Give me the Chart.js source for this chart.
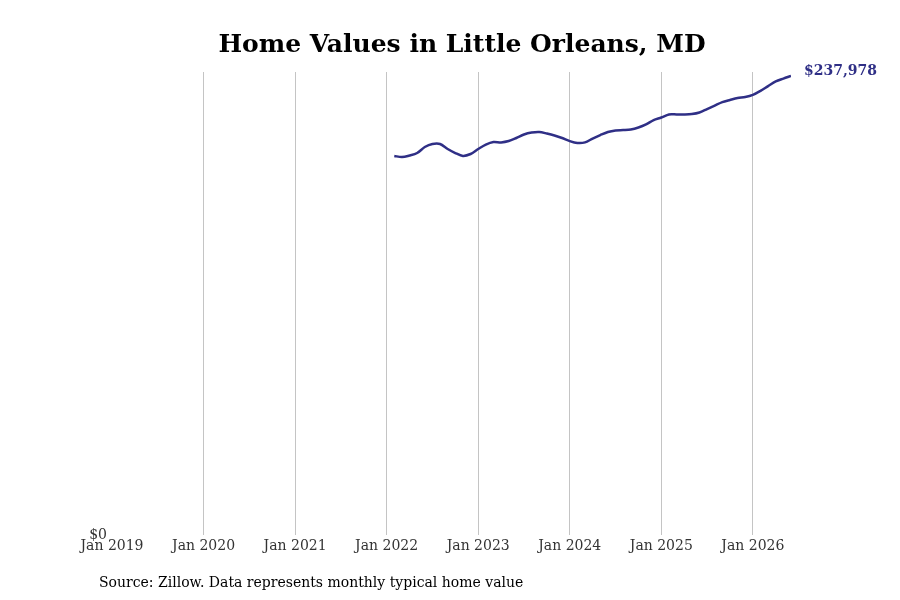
<!DOCTYPE html>
<html>
<head>
<meta charset="utf-8">
<title>Home Values in Little Orleans, MD</title>
<script src="https://cdn.jsdelivr.net/npm/chart.js@4/dist/chart.umd.min.js"></script>
<style>
    html, body { margin: 0; padding: 0; background: #fff; }
    canvas { display: block; }
</style>
</head>
<body>
<canvas id="homeValuesChart" width="900" height="600"></canvas>
<script>
// Monthly typical home value (Zillow), Feb 2022 - Jun 2026
const months = [
    '2022-02', '2022-03', '2022-04', '2022-05', '2022-06', '2022-07', '2022-08', '2022-09', '2022-10', '2022-11', '2022-12',
    '2023-01', '2023-02', '2023-03', '2023-04', '2023-05', '2023-06', '2023-07', '2023-08', '2023-09', '2023-10', '2023-11', '2023-12',
    '2024-01', '2024-02', '2024-03', '2024-04', '2024-05', '2024-06', '2024-07', '2024-08', '2024-09', '2024-10', '2024-11', '2024-12',
    '2025-01', '2025-02', '2025-03', '2025-04', '2025-05', '2025-06', '2025-07', '2025-08', '2025-09', '2025-10', '2025-11', '2025-12',
    '2026-01', '2026-02', '2026-03', '2026-04', '2026-05', '2026-06'
];
const homeValues = [
    196500, 195900, 196700, 198000, 201100, 202700, 202700, 200100, 198000, 196500, 197500,
    200100, 202400, 203700, 203500, 204200, 205800, 207600, 208600, 208900, 208100, 207100, 205800,
    204200, 203200, 203500, 205500, 207300, 208900, 209700, 209900, 210200, 211200, 212800, 215100,
    216400, 218000, 218000, 218000, 218200, 219000, 220800, 222600, 224400, 225500, 226500, 227000,
    228100, 230200, 232700, 235100, 236600, 237978
];
const tickYears = [2019, 2020, 2021, 2022, 2023, 2024, 2025, 2026];
const yTicks = [0];

const startYear = 2019;
const lineColor = '#2f2f86';
const serif = "'DejaVu Serif', 'Liberation Serif', serif";

// month string -> months since Jan 2019
function monthIndex(m) {
    const [y, mo] = m.split('-').map(Number);
    return (y - startYear) * 12 + (mo - 1);
}

const points = months.map((m, i) => ({ x: monthIndex(m), y: homeValues[i] }));

document.addEventListener('DOMContentLoaded', function() {
    const ctx = document.getElementById('homeValuesChart');

    // Title, source note and last value label
    const textPlugin = {
        id: 'textPlugin',
        afterDraw: function(chart) {
            const c = chart.ctx;
            c.save();
            c.fillStyle = '#000';
            c.font = 'bold 25px ' + serif;
            c.textAlign = 'center';
            c.textBaseline = 'middle';
            c.fillText('Home Values in Little Orleans, MD', 462, 45);

            c.font = '14px ' + serif;
            c.textAlign = 'left';
            c.fillText('Source: Zillow. Data represents monthly typical home value', 99, 583);

            const meta = chart.getDatasetMeta(0);
            const last = meta.data[meta.data.length - 1];
            const lastValue = homeValues[homeValues.length - 1];
            c.fillStyle = lineColor;
            c.font = 'bold 14px ' + serif;
            c.fillText('$' + lastValue.toLocaleString('en-US'), last.x + 13, last.y - 5);
            c.restore();
        }
    };

    new Chart(ctx, {
        type: 'line',
        data: {
            datasets: [{
                data: points,
                borderColor: lineColor,
                borderWidth: 2.5,
                pointRadius: 0,
                tension: 0.3,
                fill: false
            }]
        },
        options: {
            responsive: false,
            animation: false,
            layout: {
                padding: { top: 72, right: 109, bottom: 35, left: 0 }
            },
            plugins: {
                legend: { display: false },
                tooltip: { enabled: false },
                title: { display: false }
            },
            scales: {
                x: {
                    type: 'linear',
                    min: 0,
                    max: monthIndex(months[months.length - 1]),
                    afterBuildTicks: function(scale) {
                        scale.ticks = tickYears.map(y => ({ value: (y - startYear) * 12 }));
                    },
                    afterFit: function(scale) {
                        scale.height = 30;
                    },
                    grid: {
                        color: function(context) {
                            return context.tick && context.tick.value === 0 ? 'rgba(0,0,0,0)' : '#c4c4c4';
                        },
                        lineWidth: 1,
                        drawTicks: false
                    },
                    border: { display: false },
                    ticks: {
                        autoSkip: false,
                        maxRotation: 0,
                        padding: 3,
                        color: '#333',
                        font: { family: serif, size: 14 },
                        callback: function(value) {
                            return 'Jan ' + (startYear + value / 12);
                        }
                    }
                },
                y: {
                    min: 0,
                    max: 240000,
                    afterBuildTicks: function(scale) {
                        scale.ticks = yTicks.map(v => ({ value: v }));
                    },
                    afterFit: function(scale) {
                        scale.width = 112;
                    },
                    grid: { display: false, drawTicks: false },
                    border: { display: false },
                    ticks: {
                        padding: 5,
                        color: '#333',
                        font: { family: serif, size: 14 },
                        callback: function(value) {
                            return '$' + value.toLocaleString('en-US');
                        }
                    }
                }
            }
        },
        plugins: [textPlugin]
    });
});
</script>
</body>
</html>
